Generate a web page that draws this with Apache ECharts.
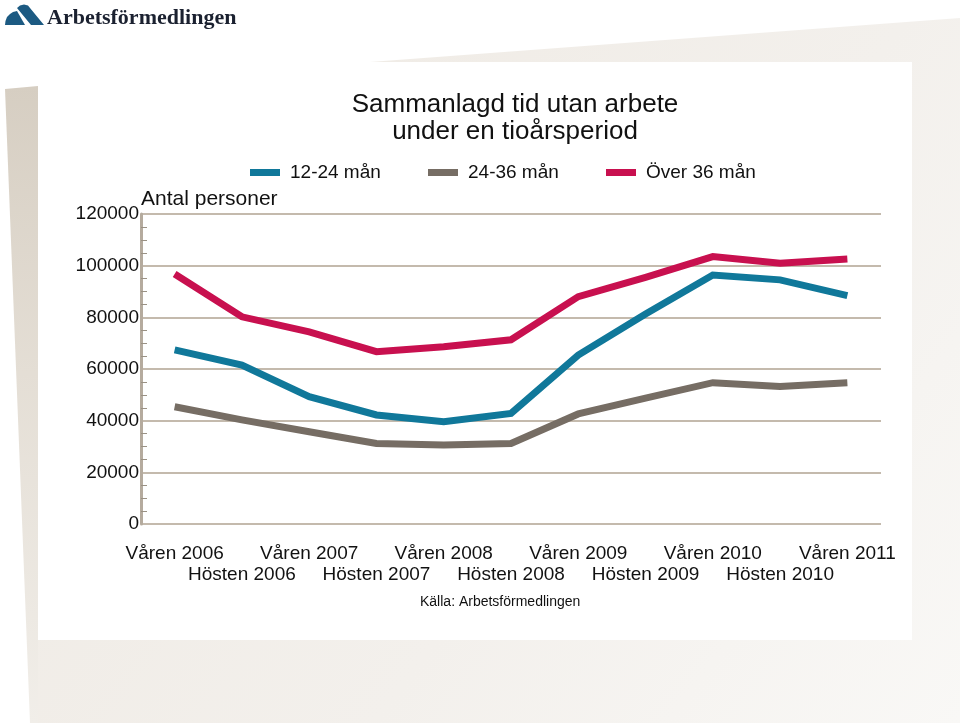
<!DOCTYPE html>
<html>
<head>
<meta charset="utf-8">
<script src="https://cdn.jsdelivr.net/npm/echarts@6/dist/echarts.min.js"></script>
<style>
html,body{margin:0;padding:0;background:#fff;}
#main{width:960px;height:723px;}
</style>
</head>
<body>
<div id="main"></div>
<script>
// ---- data ----
var categories = ['Våren 2006','Hösten 2006','Våren 2007','Hösten 2007','Våren 2008','Hösten 2008','Våren 2009','Hösten 2009','Våren 2010','Hösten 2010','Våren 2011'];
var seriesNames = ['12-24 mån','24-36 mån','Över 36 mån'];
var s12_24 = [67400,61500,49300,42200,39600,42800,65400,81300,96400,94500,88400];
var s24_36 = [45400,40300,35700,31200,30600,31200,42600,48700,54700,53200,54700];
var sOver36 = [96800,80200,74400,66700,68600,71300,88000,95500,103500,100900,102600];
var yTicks = [0,20000,40000,60000,80000,100000,120000];

var colors = ['#10789a','#766d64','#c8104f'];
var FONT = 'Liberation Sans, Arial, sans-serif';

var chart = echarts.init(document.getElementById('main'), null, {renderer:'canvas'});

function legendAt(i, left){
  return {
    data:[{name:seriesNames[i], icon:'rect'}],
    left:left, top:163, padding:0,
    itemWidth:30, itemHeight:7,
    textStyle:{fontFamily:FONT, fontSize:19, color:'#111', padding:[0,0,0,5]},
    selectedMode:false
  };
}

var option = {
  backgroundColor:'#ffffff',
  animation:false,
  title:{
    text:'Sammanlagd tid utan arbete\nunder en tioårsperiod',
    left:510, top:86, textAlign:'center',
    textStyle:{fontFamily:FONT, fontSize:26, fontWeight:'normal', color:'#111', lineHeight:27}
  },
  legend:[legendAt(0,250), legendAt(1,428), legendAt(2,606)],
  grid:{left:141, right:79, top:214, bottom:199, containLabel:false},
  xAxis:{
    type:'category',
    data:categories,
    boundaryGap:true,
    axisLine:{show:false},
    axisTick:{show:false},
    splitLine:{show:false},
    axisLabel:{
      interval:0, margin:19,
      fontFamily:FONT, fontSize:19, color:'#111', lineHeight:21,
      formatter:function(v, idx){ return idx % 2 === 1 ? '\n' + v : v; }
    }
  },
  yAxis:{
    type:'value',
    min:yTicks[0], max:yTicks[yTicks.length-1], interval:yTicks[1]-yTicks[0],
    name:'Antal personer',
    nameLocation:'end', nameGap:15, nameMoveOverlap:false,
    nameTextStyle:{fontFamily:FONT, fontSize:21, color:'#111', align:'left', verticalAlign:'middle'},
    axisLine:{show:true, lineStyle:{color:'#b5ab9e', width:3}},
    axisTick:{show:false, inside:true},
    minorTick:{show:true, splitNumber:4, length:6, lineStyle:{color:'#9a9184', width:1}},
    minorSplitLine:{show:false},
    splitLine:{show:true, lineStyle:{color:'#c4baad', width:2}},
    axisLabel:{fontFamily:FONT, fontSize:19, color:'#111', margin:2, verticalAlign:'middle',
      formatter:function(v){ return String(v); }}
  },
  series:[
    {name:seriesNames[0], type:'line', data:s12_24, symbol:'none', lineStyle:{color:colors[0], width:7, join:'miter'}, itemStyle:{color:colors[0]}, z:3},
    {name:seriesNames[1], type:'line', data:s24_36, symbol:'none', lineStyle:{color:colors[1], width:7, join:'miter'}, itemStyle:{color:colors[1]}, z:3},
    {name:seriesNames[2], type:'line', data:sOver36, symbol:'none', lineStyle:{color:colors[2], width:7, join:'miter'}, itemStyle:{color:colors[2]}, z:3}
  ],
  graphic:[
    {type:'polygon', z:-100, silent:true,
      shape:{points:[[38,62],[370,62],[960,18],[960,723],[30,723],[38,640]]},
      style:{fill:new echarts.graphic.LinearGradient(0,0,1,1,[{offset:0,color:'#eee9e2'},{offset:0.6,color:'#f3f0ec'},{offset:1,color:'#f9f8f6'}])}},
    {type:'polygon', z:-99, silent:true,
      shape:{points:[[5,89],[38,86],[38,723],[30,723]]},
      style:{fill:new echarts.graphic.LinearGradient(0,0,0,1,[{offset:0,color:'#d6cec2'},{offset:0.45,color:'#e4ded5'},{offset:1,color:'#f1eee9'}])}},
    {type:'rect', z:-98, silent:true,
      shape:{x:38,y:62,width:874,height:578},
      style:{fill:'#ffffff'}},
    {type:'polygon', z:50, silent:true,
      shape:{points:[[5,25],[5.5,21],[7,17],[10,14],[13,12],[17,11],[25,25]]},
      style:{fill:'#1c5a82'}},
    {type:'polygon', z:50, silent:true,
      shape:{points:[[17,8],[20,5.5],[24,4.5],[28,5.5],[30,8],[44,25],[31,25]]},
      style:{fill:'#1c5a82'}},
    {type:'text', z:50, silent:true, left:47, top:7,
      style:{text:'Arbetsförmedlingen', font:'bold 22px "Liberation Serif", "DejaVu Serif", serif', fill:'#1b2130'}},
    {type:'text', z:50, silent:true, left:420, top:595,
      style:{text:'Källa: Arbetsförmedlingen', font:'14px "Liberation Sans Narrow", "Liberation Sans", Arial, sans-serif', fill:'#111'}}
  ]
};
chart.setOption(option);
</script>
</body>
</html>
